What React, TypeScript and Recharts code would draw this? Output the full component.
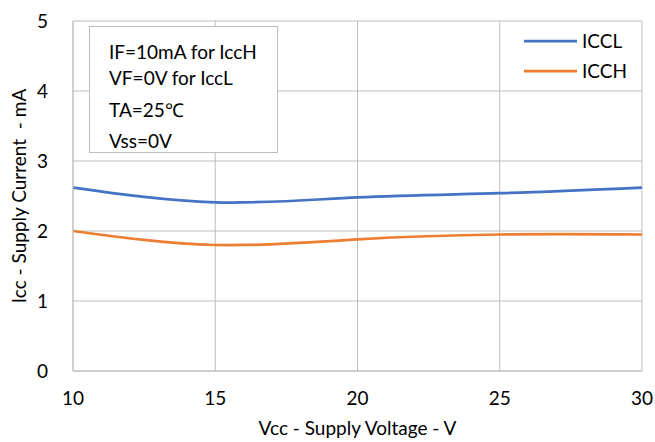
import React from 'react';
import {
  LineChart,
  Line,
  XAxis,
  YAxis,
  CartesianGrid,
  Label,
} from 'recharts';

// supply voltage (V)
const VCC = [10, 15, 20, 25, 30];
// supply current (mA), output low / output high
const ICCL = [2.62, 2.41, 2.48, 2.54, 2.62];
const ICCH = [2.0, 1.8, 1.88, 1.95, 1.95];

const X_TICKS = [10, 15, 20, 25, 30];
const Y_TICKS = [0, 1, 2, 3, 4, 5];

const CONDITIONS = ['IF=10mA for IccH', 'VF=0V for IccL', 'TA=25℃', 'Vss=0V'];

const SERIES = [
  { name: 'ICCL', color: '#4472C4' },
  { name: 'ICCH', color: '#ED7D31' },
];

const FONT = 'Lato, "Open Sans", sans-serif';
const FS = 19;
const GRID = '#bfbfbf';

const data = VCC.map((v, i) => ({ vcc: v, ICCL: ICCL[i], ICCH: ICCH[i] }));

const YTitle = (props: any) => {
  const vb = props.viewBox || {};
  const cx = vb.x + 18;
  const cy = vb.y + vb.height / 2;
  return (
    <text
      x={cx}
      y={cy}
      transform={`rotate(-90, ${cx}, ${cy})`}
      textAnchor="middle"
      dominantBaseline="central"
      fontFamily={FONT}
      fontSize={FS}
      fill="#000"
      style={{ whiteSpace: 'pre' }}
    >
      {'Icc - Supply Current  - mA'}
    </text>
  );
};

export default function App() {
  return (
    <div style={{ position: 'absolute', left: 0, top: 0, width: 655, height: 442, background: '#fff' }}>
      <LineChart
        width={655}
        height={442}
        data={data}
        margin={{ top: 21, right: 13, bottom: 0, left: 0 }}
      >
        <CartesianGrid stroke={GRID} strokeWidth={1} />
        <XAxis
          dataKey="vcc"
          type="number"
          domain={[10, 30]}
          ticks={X_TICKS}
          height={71}
          stroke={GRID}
          tickLine={false}
          tickSize={0}
          tickMargin={21}
          tick={{ fontFamily: FONT, fontSize: FS, fill: '#000' }}
        >
          <Label
            value="Vcc - Supply Voltage - V"
            position="insideBottom"
            offset={7}
            style={{ fontFamily: FONT, fontSize: FS, fill: '#000' }}
          />
        </XAxis>
        <YAxis
          type="number"
          domain={[0, 5]}
          ticks={Y_TICKS}
          width={73}
          stroke={GRID}
          tickLine={false}
          tickSize={0}
          tickMargin={25}
          tick={{ fontFamily: FONT, fontSize: FS, fill: '#000' }}
        >
          <Label content={<YTitle />} />
        </YAxis>
        {SERIES.map((s) => (
          <Line
            key={s.name}
            type="natural"
            dataKey={s.name}
            stroke={s.color}
            strokeWidth={2.75}
            dot={false}
            isAnimationActive={false}
          />
        ))}
      </LineChart>

      {/* legend, top right inside the plot */}
      <svg
        width={120}
        height={60}
        style={{ position: 'absolute', left: 524, top: 31, overflow: 'visible' }}
      >
        {SERIES.map((s, i) => (
          <g key={s.name} transform={`translate(0, ${i * 30})`}>
            <line x1={0} x2={53} y1={10} y2={10} stroke={s.color} strokeWidth={2.75} />
            <text x={58} y={10} dy="0.35em" fontFamily={FONT} fontSize={FS} fill="#000">
              {s.name}
            </text>
          </g>
        ))}
      </svg>

      {/* test conditions */}
      <div
        style={{
          position: 'absolute',
          left: 89,
          top: 26,
          width: 189,
          height: 127,
          boxSizing: 'border-box',
          border: `1.5px solid ${GRID}`,
          background: '#fff',
          fontFamily: FONT,
          fontSize: FS,
          color: '#000',
        }}
      >
        {CONDITIONS.map((t, i) => (
          <div
            key={t}
            style={{
              position: 'absolute',
              left: 19,
              top: [24, 50, 82, 113][i],
              transform: 'translateY(-50%)',
              lineHeight: 1,
              whiteSpace: 'nowrap',
            }}
          >
            {t}
          </div>
        ))}
      </div>
    </div>
  );
}
